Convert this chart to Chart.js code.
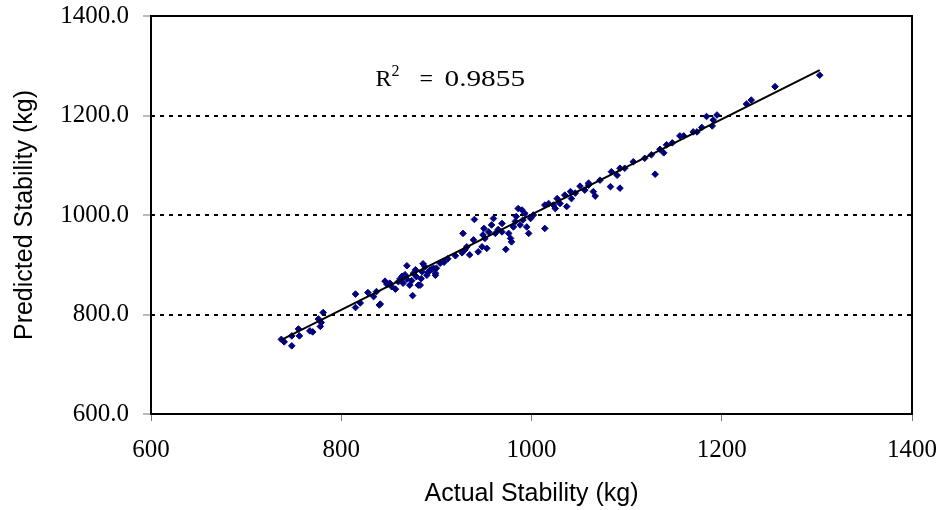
<!DOCTYPE html>
<html>
<head>
<meta charset="utf-8">
<script src="https://cdn.jsdelivr.net/npm/chart.js@4.4.1/dist/chart.umd.min.js"></script>
<style>
  body { margin: 0; background: #fff; }
</style>
</head>
<body>
<canvas id="stabilityChart" width="943" height="510"></canvas>
<script>
// values (kg)
const actual = [
  737, 740, 748, 748, 755, 756, 767, 770, 776, 781, 778, 779,
  815, 815, 820, 828, 834, 837, 840, 841, 846, 848, 851, 853, 857,
  864, 865, 869, 869, 872, 875, 876, 879, 881, 883, 885, 886, 888,
  890, 893, 897, 899, 900, 904, 920, 927, 860, 862, 867, 874, 878,
  884, 891, 908, 912,
  895, 899, 928, 930, 932, 935, 939, 940, 944, 948, 949, 950, 951,
  953, 955, 958, 960, 962, 965, 969, 969, 973, 976, 978, 979, 981,
  983, 984, 986, 988, 990, 991, 993, 995, 997, 999, 1002, 1014, 1014,
  1018, 1023, 1025, 1027, 1030, 1035, 1037, 1041, 1042, 1046, 1051,
  1056, 1060, 1065, 1067, 1083, 1093,
  1060, 1072, 1084, 1090, 1093, 1098, 1107, 1119, 1126, 1130, 1135,
  1139, 1142, 1148, 1156, 1160, 1170, 1174, 1179, 1184, 1190, 1191,
  1195, 1226, 1231, 1256, 1303
];
const predicted = [
  750, 745, 737, 757, 771, 757, 767, 765, 791, 804, 776, 784,
  814, 841, 823, 844, 836, 846, 819, 821, 867, 861, 863, 856, 851,
  877, 863, 898, 871, 859, 838, 883, 876, 859, 859, 886, 902, 896,
  879, 889, 893, 883, 893, 903, 918, 924, 866, 872, 880, 868, 890,
  872, 884, 905, 912,
  891, 879, 963, 930, 936, 920, 950, 991, 926, 936, 960, 973, 953,
  933, 966, 980, 993, 963, 971, 983, 966, 931, 963, 953, 946, 976,
  987, 997, 1013, 980, 1010, 990, 1003, 976, 963, 993, 1000, 973, 1020,
  1023, 1020, 1013, 1033, 1023, 1040, 1017, 1047, 1033, 1044, 1058,
  1050, 1060, 1047, 1038, 1057, 1054,
  1064, 1070, 1087, 1080, 1094, 1094, 1107, 1114, 1121, 1082, 1132,
  1125, 1141, 1145, 1159, 1159, 1167, 1167, 1176, 1198, 1179, 1191,
  1201, 1223, 1231, 1258, 1281
];

// ends of the fitted line
const fitX = [737, 1303];
const fitY = [749, 1291];

const xTicks = [600, 800, 1000, 1200, 1400];
const yTicks = [600, 800, 1000, 1200, 1400];
const r2Text = '0.9855';

const serif = "'Liberation Serif', 'Times New Roman', serif";
const sans = "'Liberation Sans', Arial, sans-serif";

const points = actual.map((a, i) => ({ x: a, y: predicted[i] }));
const fitLine = fitX.map((a, i) => ({ x: a, y: fitY[i] }));

// box round the plot + the R^2 note
const framePlugin = {
  id: 'frame',
  afterDraw(chart) {
    const { ctx, chartArea: area, scales } = chart;
    ctx.save();
    ctx.strokeStyle = '#000';
    ctx.lineWidth = 2;
    ctx.strokeRect(area.left, area.top, area.right - area.left, area.bottom - area.top);

    const x = scales.x.getPixelForValue(836);
    const y = scales.y.getPixelForValue(1259);
    ctx.fillStyle = '#000';
    ctx.textBaseline = 'alphabetic';
    ctx.font = '24px ' + serif;
    ctx.fillText('R', x, y);
    ctx.font = '16px ' + serif;
    ctx.fillText('2', x + 16, y - 10);
    ctx.font = '24px ' + serif;
    ctx.fillText('=', x + 44, y);
    ctx.translate(x + 69, y);
    ctx.scale(1.22, 1);
    ctx.fillText(r2Text, 0, 0);
    ctx.restore();
  }
};

const ctx = document.querySelector('#stabilityChart').getContext('2d');

new Chart(ctx, {
  type: 'scatter',
  data: {
    datasets: [{
      label: 'Fit',
      data: fitLine,
      showLine: true,
      borderColor: '#000',
      borderWidth: 2,
      pointRadius: 0,
      order: 0
    }, {
      label: 'Stability',
      data: points,
      pointStyle: 'rectRot',
      pointRadius: 3.3,
      backgroundColor: '#00007f',
      borderColor: '#00007f',
      borderWidth: 1,
      order: 1
    }]
  },
  options: {
    responsive: false,
    animation: false,
    layout: { padding: { top: 16, right: 31, bottom: 0, left: 0 } },
    plugins: {
      legend: { display: false },
      tooltip: { enabled: false }
    },
    scales: {
      x: {
        min: 600,
        max: 1400,
        afterBuildTicks: (scale) => { scale.ticks = xTicks.map(v => ({ value: v })); },
        afterFit: (scale) => {
          scale.height = 96;
          scale.paddingLeft = 0;
          scale.paddingRight = 0;
        },
        border: { display: false },
        grid: {
          drawOnChartArea: false,
          drawTicks: true,
          tickLength: 7,
          tickColor: '#777',
          tickWidth: 1
        },
        ticks: {
          padding: 14,
          color: '#000',
          font: { family: serif, size: 25 },
          callback: (v) => v
        },
        title: {
          display: true,
          text: 'Actual Stability (kg)',
          color: '#000',
          font: { family: sans, size: 25 },
          padding: { bottom: 1 }
        }
      },
      y: {
        min: 600,
        max: 1400,
        afterBuildTicks: (scale) => { scale.ticks = yTicks.map(v => ({ value: v })); },
        afterFit: (scale) => {
          scale.width = 151;
          scale.paddingTop = 0;
          scale.paddingBottom = 0;
        },
        border: { display: false, dash: [4, 5] },
        grid: {
          color: (c) => (c.tick && (c.tick.value === 600 || c.tick.value === 1400)) ? 'rgba(0,0,0,0)' : '#000',
          lineWidth: 2,
          tickLength: 8,
          tickColor: '#777',
          tickWidth: 1,
          tickBorderDash: []
        },
        ticks: {
          padding: 14,
          color: '#000',
          font: { family: serif, size: 25 },
          callback: (v) => Number(v).toFixed(1)
        },
        title: {
          display: true,
          text: 'Predicted Stability (kg)',
          color: '#000',
          font: { family: sans, size: 25 },
          padding: { top: 10 }
        }
      }
    }
  },
  plugins: [framePlugin]
});
</script>
</body>
</html>
